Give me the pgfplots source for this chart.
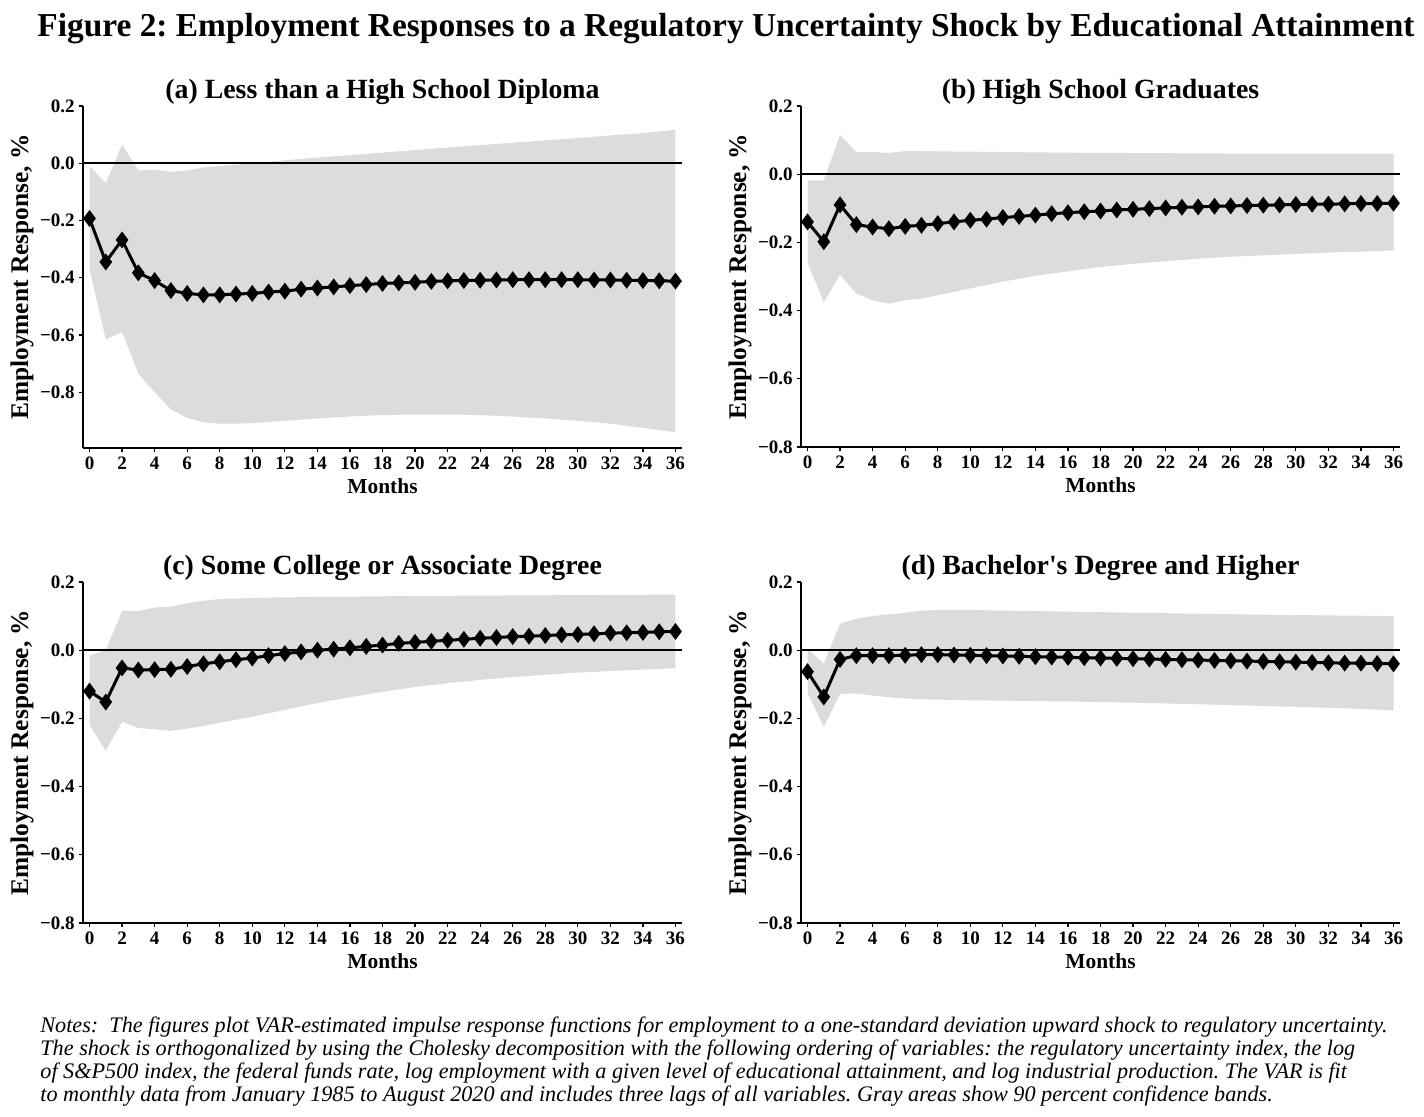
\documentclass[border=0pt]{standalone}
\usepackage{fontspec}
\setmainfont{Liberation Serif}[Ligatures=TeXOff]
\usepackage{pgfplots}
\pgfplotsset{compat=1.18}
\frenchspacing

\definecolor{band}{HTML}{DCDCDC}

\pgfplotsset{
  irf/.style={
    scale only axis, width=299.5pt, height=170.5pt,
    xmin=-0.4, xmax=36.4, ymin=-0.8, ymax=0.2,
    xtick={0,2,...,36},
    ytick={-0.8,-0.6,-0.4,-0.2,0,0.2},
    yticklabels={−0.8,−0.6,−0.4,−0.2,0.0,0.2},
    axis x line*=bottom, axis y line*=left,
    axis line style={-, line width=0.6pt},
    tick align=outside, major tick length=2.2pt,
    tick style={line width=0.6pt, black},
    ticklabel style={font=\fontsize{9.5}{11}\selectfont\bfseries, inner sep=1.8pt},
    xticklabel style={text height=6.8pt, text depth=0pt},
    /pgf/number format/assume math mode=true,
    title style={at={(axis description cs:0.5,0.9854)}, anchor=base,
      font=\fontsize{13.9}{16}\selectfont\bfseries},
    xlabel style={at={(axis description cs:0.5,-0.132)}, anchor=base,
      font=\fontsize{10.7}{12}\selectfont\bfseries},
    ylabel style={at={(axis description cs:-0.1017,0.5)}, anchor=center,
      font=\fontsize{12.7}{15}\selectfont\bfseries},
    xlabel={Months}, ylabel={Employment Response, \%},
    clip=false,
  },
  bandstyle/.style={fill=band, draw=none, forget plot},
  zero/.style={black, line width=1pt, forget plot},
  resp/.style={black, line width=1.5pt, mark=diamond*, mark size=3pt},
}

\begin{document}
\begin{tikzpicture}
\path (0,0) rectangle (712pt,558.5pt);

\node[anchor=base, inner sep=0pt, font=\fontsize{16.7}{19}\selectfont\bfseries] at (363pt,540pt)
  {Figure 2: Employment Responses to a Regulatory Uncertainty Shock by Educational Attainment};

% (a) less than high school
\begin{axis}[irf, at={(41.5pt,505.5pt)}, anchor=north west, height=171pt,
  ymin=-0.995, title={(a) Less than a High School Diploma}]
\addplot[bandstyle] coordinates {
  (0,-0.01) (1,-0.07) (2,0.065) (3,-0.025) (4,-0.023) (5,-0.03) (6,-0.025)
  (7,-0.015) (8,-0.01) (9,-0.005) (10,0.0) (11,0.005) (12,0.01) (14,0.02)
  (16,0.028) (18,0.037) (20,0.046) (22,0.055) (24,0.063) (26,0.072) (28,0.08)
  (30,0.088) (32,0.097) (34,0.105) (36,0.117)
  (36,-0.94) (34,-0.925) (32,-0.91) (30,-0.9) (28,-0.892) (26,-0.885) (24,-0.88)
  (22,-0.878) (20,-0.878) (18,-0.88) (16,-0.885) (14,-0.892) (12,-0.9) (10,-0.908)
  (9,-0.91) (8,-0.91) (7,-0.905) (6,-0.89) (5,-0.86) (4,-0.8) (3,-0.735)
  (2,-0.59) (1,-0.615) (0,-0.37)} -- cycle;
\addplot[zero] coordinates {(-0.4,0) (36.4,0)};
\addplot[resp] coordinates {
  (0,-0.193) (1,-0.345) (2,-0.268) (3,-0.383) (4,-0.41) (5,-0.445) (6,-0.455)
  (7,-0.46) (8,-0.46) (9,-0.457) (10,-0.455) (11,-0.45) (12,-0.447) (13,-0.44)
  (14,-0.436) (15,-0.432) (16,-0.428) (17,-0.424) (18,-0.42) (19,-0.418)
  (20,-0.416) (21,-0.413) (22,-0.411) (23,-0.41) (24,-0.409) (25,-0.408)
  (26,-0.407) (27,-0.407) (28,-0.407) (29,-0.407) (30,-0.407) (31,-0.408)
  (32,-0.408) (33,-0.409) (34,-0.41) (35,-0.411) (36,-0.412)};
\end{axis}

% (b) high school graduates
\begin{axis}[irf, at={(400.5pt,505.5pt)}, anchor=north west,
  title={(b) High School Graduates}]
\addplot[bandstyle] coordinates {
  (0,-0.018) (1,-0.018) (2,0.115) (3,0.065) (4,0.065) (5,0.062) (6,0.068)
  (7,0.068) (8,0.067) (12,0.065) (16,0.063) (20,0.062) (24,0.061) (28,0.06)
  (32,0.06) (36,0.06)
  (36,-0.224) (34,-0.227) (32,-0.23) (30,-0.234) (28,-0.238) (26,-0.242)
  (24,-0.248) (22,-0.255) (20,-0.263) (18,-0.272) (16,-0.285) (14,-0.298)
  (12,-0.315) (10,-0.335) (8,-0.355) (7,-0.365) (6,-0.37) (5,-0.38) (4,-0.37)
  (3,-0.35) (2,-0.295) (1,-0.375) (0,-0.26)} -- cycle;
\addplot[zero] coordinates {(-0.4,0) (36.4,0)};
\addplot[resp] coordinates {
  (0,-0.14) (1,-0.198) (2,-0.09) (3,-0.148) (4,-0.155) (5,-0.16) (6,-0.153)
  (7,-0.15) (8,-0.145) (9,-0.14) (10,-0.135) (11,-0.132) (12,-0.127)
  (13,-0.124) (14,-0.12) (15,-0.116) (16,-0.113) (17,-0.11) (18,-0.108)
  (19,-0.105) (20,-0.103) (21,-0.101) (22,-0.099) (23,-0.097) (24,-0.096)
  (25,-0.094) (26,-0.093) (27,-0.092) (28,-0.091) (29,-0.09) (30,-0.089)
  (31,-0.088) (32,-0.088) (33,-0.087) (34,-0.086) (35,-0.086) (36,-0.085)};
\end{axis}

% (c) some college
\begin{axis}[irf, at={(41.5pt,267.5pt)}, anchor=north west,
  title={(c) Some College or Associate Degree}]
\addplot[bandstyle] coordinates {
  (0,-0.015) (1,0.0) (2,0.115) (3,0.115) (4,0.125) (5,0.128) (6,0.138)
  (7,0.145) (8,0.15) (10,0.153) (12,0.155) (16,0.157) (20,0.159) (24,0.16)
  (28,0.161) (32,0.162) (36,0.163)
  (36,-0.053) (34,-0.057) (32,-0.061) (30,-0.066) (28,-0.072) (26,-0.079)
  (24,-0.087) (22,-0.097) (20,-0.108) (18,-0.122) (16,-0.138) (14,-0.155)
  (12,-0.175) (10,-0.195) (8,-0.213) (7,-0.222) (6,-0.23) (5,-0.237)
  (4,-0.232) (3,-0.228) (2,-0.21) (1,-0.295) (0,-0.22)} -- cycle;
\addplot[zero] coordinates {(-0.4,0) (36.4,0)};
\addplot[resp] coordinates {
  (0,-0.12) (1,-0.152) (2,-0.052) (3,-0.058) (4,-0.057) (5,-0.056) (6,-0.048)
  (7,-0.04) (8,-0.034) (9,-0.028) (10,-0.023) (11,-0.016) (12,-0.01)
  (13,-0.005) (14,0.0) (15,0.003) (16,0.007) (17,0.011) (18,0.015) (19,0.02)
  (20,0.023) (21,0.026) (22,0.029) (23,0.032) (24,0.035) (25,0.037) (26,0.04)
  (27,0.041) (28,0.043) (29,0.045) (30,0.046) (31,0.048) (32,0.05) (33,0.051)
  (34,0.052) (35,0.054) (36,0.055)};
\end{axis}

% (d) bachelor's and higher
\begin{axis}[irf, at={(400.5pt,267.5pt)}, anchor=north west,
  title={(d) Bachelor's Degree and Higher}]
\addplot[bandstyle] coordinates {
  (0,0.005) (1,-0.04) (2,0.078) (3,0.092) (4,0.1) (5,0.105) (6,0.11)
  (7,0.116) (8,0.118) (10,0.118) (12,0.116) (16,0.113) (20,0.11) (24,0.107)
  (28,0.104) (32,0.102) (36,0.1)
  (36,-0.177) (34,-0.172) (30,-0.166) (26,-0.161) (22,-0.156) (18,-0.152)
  (14,-0.149) (10,-0.147) (8,-0.145) (6,-0.142) (5,-0.138) (4,-0.133)
  (3,-0.127) (2,-0.128) (1,-0.225) (0,-0.125)} -- cycle;
\addplot[zero] coordinates {(-0.4,0) (36.4,0)};
\addplot[resp] coordinates {
  (0,-0.063) (1,-0.137) (2,-0.027) (3,-0.016) (4,-0.016) (5,-0.016) (6,-0.015)
  (7,-0.013) (8,-0.013) (9,-0.014) (10,-0.015) (11,-0.016) (12,-0.017)
  (13,-0.018) (14,-0.019) (15,-0.02) (16,-0.021) (17,-0.022) (18,-0.023)
  (19,-0.024) (20,-0.025) (21,-0.026) (22,-0.027) (23,-0.028) (24,-0.029)
  (25,-0.03) (26,-0.031) (27,-0.032) (28,-0.033) (29,-0.034) (30,-0.035)
  (31,-0.036) (32,-0.037) (33,-0.038) (34,-0.038) (35,-0.039) (36,-0.04)};
\end{axis}

\node[anchor=base west, inner sep=0pt, align=left, font=\fontsize{11.1}{11.65}\selectfont\itshape]
  at (20pt,7.5pt) {Notes:\ \ The figures plot VAR-estimated impulse response functions for employment to a one-standard deviation upward shock to regulatory uncertainty.\\
The shock is orthogonalized by using the Cholesky decomposition with the following ordering of variables: the regulatory uncertainty index, the log\\
of S\&P500 index, the federal funds rate, log employment with a given level of educational attainment, and log industrial production. The VAR is fit\\
to monthly data from January 1985 to August 2020 and includes three lags of all variables. Gray areas show 90 percent confidence bands.};
\end{tikzpicture}
\end{document}
